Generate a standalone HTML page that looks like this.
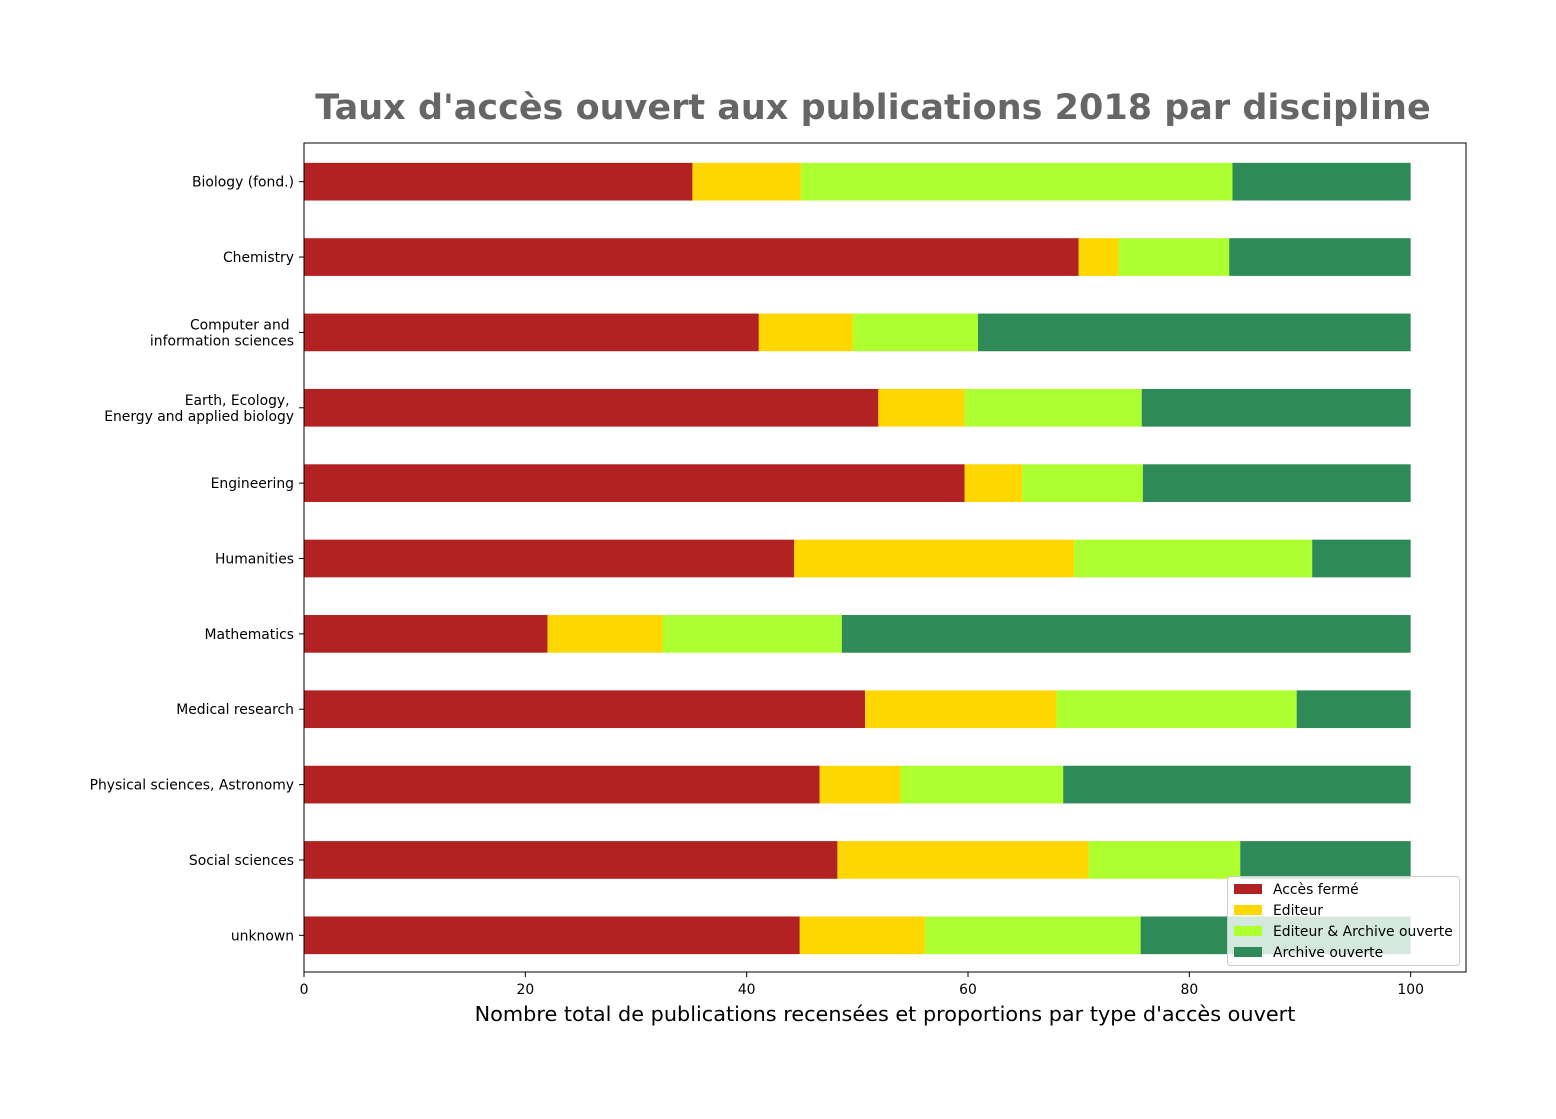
<!DOCTYPE html>
<html><head><meta charset="utf-8"><style>
body{margin:0;background:#fff;}
svg text{font-family:"DejaVu Sans","Liberation Sans",sans-serif;}
</style></head><body>
<svg id="chart" width="1556" height="1114" xmlns="http://www.w3.org/2000/svg"></svg>
<script>
const categories=["Biology (fond.)","Chemistry","Computer and \ninformation sciences","Earth, Ecology, \nEnergy and applied biology","Engineering","Humanities","Mathematics","Medical research","Physical sciences, Astronomy","Social sciences","unknown"];
const closedAccess=[35.1,70.0,41.1,51.9,59.7,44.3,22.0,50.7,46.6,48.2,44.8];
const publisher=[9.8,3.6,8.5,7.8,5.2,25.3,10.4,17.3,7.3,22.7,11.3];
const publisherArchive=[39.0,10.0,11.3,16.0,10.9,21.5,16.2,21.7,14.7,13.7,19.5];
const archive=[16.1,16.4,39.1,24.3,24.2,8.9,51.4,10.3,31.4,15.4,24.4];
const seriesNames=["Accès fermé","Editeur","Editeur & Archive ouverte","Archive ouverte"];
const colors=["#b22222","#ffd700","#adff2f","#2e8b57"];
const xTicks=[0,20,40,60,80,100];

const NS="http://www.w3.org/2000/svg";
const svg=document.getElementById('chart');
const L=304,R=1466,T=143,B=972,xmax=105;
const xs=v=>L+v*(R-L)/xmax;
const band=(B-T)/categories.length;
const yc=i=>T+band*(i+0.5)+1;
const bh=band*0.5;
function mk(t,a,p){const e=document.createElementNS(NS,t);for(const k in a)e.setAttribute(k,a[k]);(p||svg).appendChild(e);return e;}

let title=mk('text',{x:873,y:119,'text-anchor':'middle','font-size':35,'font-weight':'bold',fill:'#666'});
title.textContent="Taux d'accès ouvert aux publications 2018 par discipline";



const series=[closedAccess,publisher,publisherArchive,archive];
categories.forEach((c,i)=>{
  let acc=0;
  series.forEach((s,j)=>{
    const r=mk('rect',{x:xs(acc),y:yc(i)-bh/2,width:xs(acc+s[i])-xs(acc),height:bh,fill:colors[j]});
    
    
    acc+=s[i];
  });
  mk('line',{x1:L-5,x2:L,y1:yc(i),y2:yc(i),stroke:'#000'});
  const lines=c.split('\n');
  const t=mk('text',{x:L-10,'font-size':13.9,'text-anchor':'end'});
  
  
  lines.forEach((ln,k)=>{const ts=mk('tspan',{x:L-10,y:yc(i)+5+(k-(lines.length-1)/2)*16},t);ts.textContent=ln;});
});
xTicks.forEach(v=>{
  mk('line',{x1:xs(v),x2:xs(v),y1:B,y2:B+5,stroke:'#000'});
  const t=mk('text',{x:xs(v),y:B+22,'font-size':13.9,'text-anchor':'middle'});
  t.textContent=v;
  
  
});
const frame=mk('rect',{x:L,y:T,width:R-L,height:B-T,fill:'none',stroke:'#000','stroke-width':1});


const xl=mk('text',{x:885,y:1021,'font-size':20.8,'text-anchor':'middle'});
xl.textContent="Nombre total de publications recensées et proportions par type d'accès ouvert";



const lg=mk('g',{});


mk('rect',{x:1227.5,y:876.5,width:232,height:89,rx:3,fill:'#fff','fill-opacity':0.8,stroke:'#ccc'},lg);
seriesNames.forEach((n,j)=>{
  const y=889+j*21;
  const sw=mk('rect',{x:1234,y:y-5,width:28,height:10,fill:colors[j]},lg);
  
  
  const t=mk('text',{x:1273,y:y+5,'font-size':13.9},lg);
  t.textContent=n;
  
  
});
</script>
</body></html>
